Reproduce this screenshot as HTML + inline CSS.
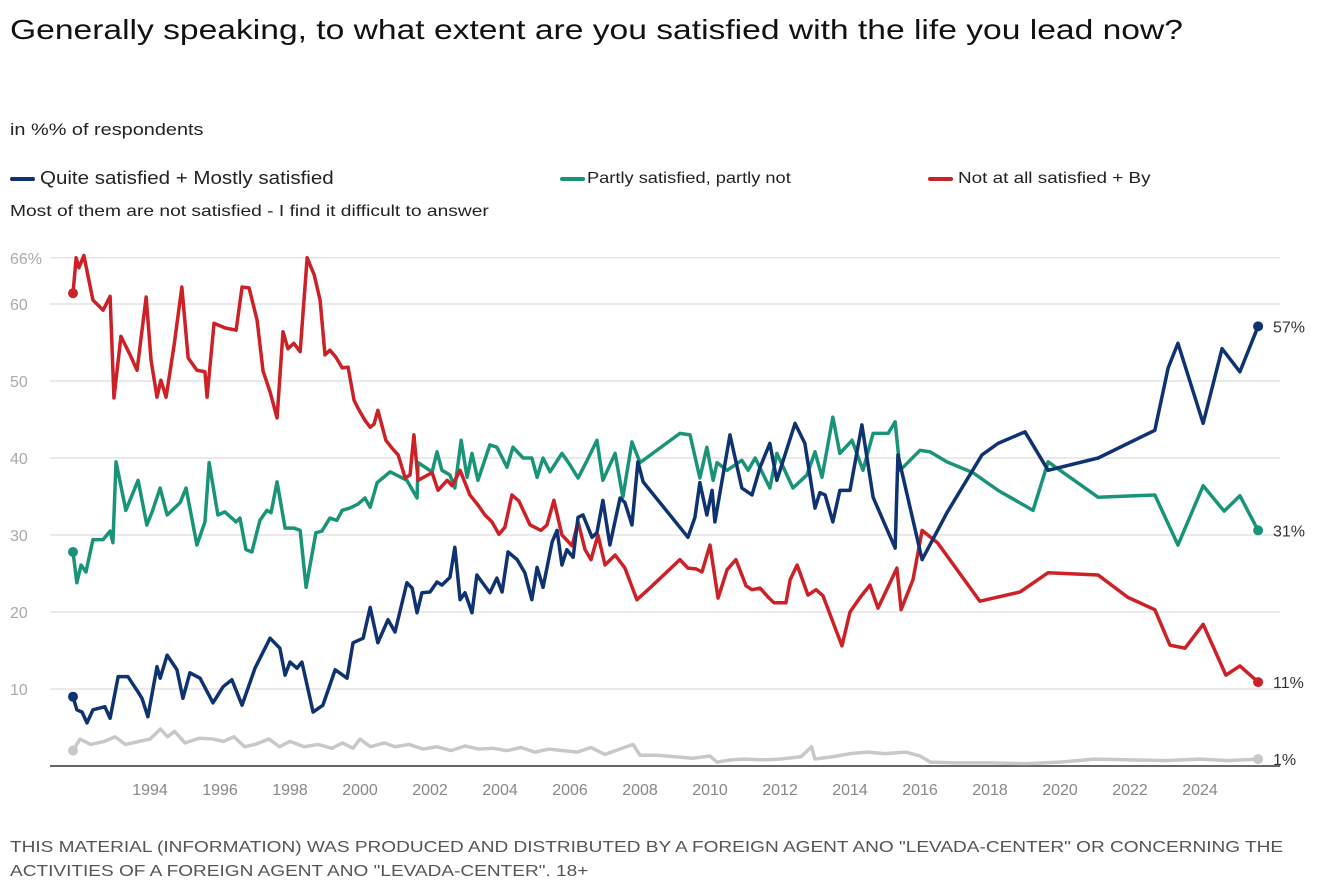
<!DOCTYPE html>
<html><head><meta charset="utf-8">
<style>
body{margin:0;width:1320px;height:885px;background:#fff;font-family:"Liberation Sans",sans-serif;overflow:hidden;position:relative}
.t{position:absolute;white-space:nowrap;transform-origin:0 0}
</style></head>
<body>
<div class="t" style="left:10px;top:14px;font-size:28px;color:#111;transform:scaleX(1.2)">Generally speaking, to what extent are you satisfied with the life you lead now?</div>
<div class="t" style="left:10px;top:120px;font-size:17px;color:#222;transform:scaleX(1.17)">in %% of respondents</div>
<div>
<div class="t" style="left:10px;top:168px;font-size:18px;color:#222"><span style="display:inline-block;width:25px;height:4px;background:#0e3370;border-radius:2px;vertical-align:middle;margin-right:5px"></span><span style="display:inline-block;transform:scaleX(1.14);transform-origin:0 0">Quite satisfied + Mostly satisfied</span></div>
<div class="t" style="left:560px;top:170px;font-size:16px;color:#222"><span style="display:inline-block;width:25px;height:4px;background:#1a9478;border-radius:2px;vertical-align:middle;margin-right:2px"></span><span style="display:inline-block;transform:scaleX(1.14);transform-origin:0 0">Partly satisfied, partly not</span></div>
<div class="t" style="left:928px;top:170px;font-size:16px;color:#222"><span style="display:inline-block;width:25px;height:4px;background:#cc2127;border-radius:2px;vertical-align:middle;margin-right:5px"></span><span style="display:inline-block;transform:scaleX(1.18);transform-origin:0 0">Not at all satisfied + By</span></div>
<div class="t" style="left:10px;top:203px;font-size:16px;color:#222;transform:scaleX(1.2)">Most of them are not satisfied - I find it difficult to answer</div>
</div>
<svg id="chart" width="1320" height="885" style="position:absolute;left:0;top:0"></svg>
<div class="t" style="left:10px;top:836px;font-size:16px;color:#555;line-height:24px;transform:scaleX(1.19)">THIS MATERIAL (INFORMATION) WAS PRODUCED AND DISTRIBUTED BY A FOREIGN AGENT ANO "LEVADA-CENTER" OR CONCERNING THE<br>ACTIVITIES OF A FOREIGN AGENT ANO "LEVADA-CENTER". 18+</div>
<script>
const yTicks=[10,20,30,40,50,60,66];
const xTicks=[1994,1996,1998,2000,2002,2004,2006,2008,2010,2012,2014,2016,2018,2020,2022,2024];
const blueYears=[1991.80,1991.91,1992.06,1992.20,1992.37,1992.71,1992.86,1993.09,1993.37,1993.66,1993.77,1993.94,1994.20,1994.29,1994.49,1994.77,1994.94,1995.14,1995.43,1995.80,1996.09,1996.34,1996.63,1997.00,1997.43,1997.71,1997.86,1998.00,1998.20,1998.34,1998.66,1998.94,1999.29,1999.63,1999.80,2000.09,2000.29,2000.51,2000.80,2001.00,2001.34,2001.49,2001.63,2001.77,2002.00,2002.20,2002.34,2002.57,2002.71,2002.86,2003.00,2003.20,2003.34,2003.71,2003.91,2004.06,2004.23,2004.49,2004.71,2004.91,2005.06,2005.23,2005.49,2005.63,2005.77,2005.91,2006.09,2006.23,2006.37,2006.63,2006.77,2006.94,2007.14,2007.43,2007.57,2007.77,2007.94,2008.09,2009.14,2009.37,2009.57,2009.71,2009.91,2010.06,2010.14,2010.57,2010.91,2011.20,2011.43,2011.71,2011.91,2012.43,2012.71,2013.00,2013.14,2013.29,2013.51,2013.71,2014.00,2014.34,2014.66,2015.29,2015.37,2016.06,2016.77,2017.77,2018.23,2019.00,2019.66,2021.09,2022.71,2023.09,2023.37,2024.09,2024.63,2025.14,2025.66];
const blueValues=[9.0,7.3,7.0,5.6,7.3,7.7,6.2,11.6,11.6,9.6,8.8,6.4,12.9,11.4,14.4,12.5,8.8,12.1,11.4,8.2,10.3,11.2,7.9,12.7,16.6,15.3,11.8,13.5,12.7,13.5,7.0,7.9,12.5,11.4,16.0,16.6,20.6,16.0,19.0,17.4,23.8,23.1,19.9,22.5,22.6,23.9,23.5,24.5,28.4,21.6,22.5,19.9,24.8,22.5,24.4,22.6,27.8,26.8,25.1,21.6,25.8,23.2,29.1,30.6,26.1,28.1,27.1,32.3,32.6,29.7,30.3,34.5,28.7,34.8,34.2,31.3,39.5,36.9,31.0,29.7,32.3,36.8,32.6,35.8,31.7,43.0,36.1,35.2,38.8,41.9,37.1,44.5,41.9,33.5,35.5,35.2,31.7,35.8,35.8,44.3,34.9,28.3,40.4,26.8,32.9,40.4,41.9,43.4,38.4,40.0,43.6,51.7,54.9,44.5,54.2,51.2,57.1];
const greenYears=[1991.80,1991.91,1992.03,1992.17,1992.37,1992.66,1992.86,1992.94,1993.03,1993.31,1993.66,1993.91,1994.06,1994.29,1994.49,1994.86,1995.03,1995.34,1995.57,1995.69,1995.94,1996.14,1996.46,1996.57,1996.74,1996.91,1997.14,1997.34,1997.46,1997.63,1997.86,1998.11,1998.29,1998.46,1998.74,1998.91,1999.14,1999.34,1999.49,1999.71,1999.94,2000.14,2000.29,2000.49,2000.86,2001.34,2001.63,2001.66,2002.06,2002.20,2002.34,2002.57,2002.71,2002.89,2003.06,2003.20,2003.37,2003.71,2003.91,2004.20,2004.37,2004.66,2004.91,2005.06,2005.23,2005.43,2005.77,2006.00,2006.23,2006.49,2006.77,2006.94,2007.29,2007.51,2007.77,2008.00,2009.14,2009.43,2009.71,2009.91,2010.09,2010.20,2010.49,2010.91,2011.09,2011.29,2011.71,2011.91,2012.37,2012.77,2013.00,2013.20,2013.51,2013.71,2014.06,2014.37,2014.66,2015.09,2015.29,2015.43,2016.00,2016.29,2016.77,2017.51,2018.23,2019.23,2019.66,2021.09,2022.71,2023.37,2024.09,2024.69,2025.14,2025.66];
const greenValues=[27.8,23.8,26.1,25.2,29.4,29.4,30.5,29.0,39.5,33.2,37.1,31.3,33.0,36.1,32.6,34.2,36.1,28.7,31.7,39.4,32.6,33.0,31.7,32.2,28.1,27.8,31.9,33.2,32.9,36.9,30.9,30.9,30.6,23.2,30.3,30.5,32.2,31.9,33.2,33.5,34.0,34.8,33.6,36.8,38.2,37.1,34.8,39.4,38.2,40.8,38.4,37.8,36.1,42.3,37.5,40.6,37.1,41.7,41.4,38.8,41.4,40.0,40.0,37.5,40.0,38.2,40.6,39.1,37.4,39.7,42.3,37.1,40.6,34.9,42.1,39.4,43.2,43.0,37.4,41.4,37.1,39.4,38.4,39.7,38.4,40.0,36.1,40.6,36.1,37.8,40.8,37.5,45.3,40.6,42.3,38.4,43.2,43.2,44.7,38.4,41.0,40.8,39.5,38.1,35.8,33.2,39.5,34.9,35.2,28.7,36.4,33.1,35.1,30.6];
const redYears=[1991.80,1991.89,1991.97,1992.11,1992.37,1992.66,1992.86,1992.97,1993.17,1993.43,1993.63,1993.89,1994.03,1994.20,1994.31,1994.46,1994.69,1994.91,1995.09,1995.34,1995.57,1995.63,1995.83,1996.14,1996.46,1996.63,1996.83,1997.06,1997.23,1997.43,1997.63,1997.80,1997.94,1998.11,1998.29,1998.49,1998.69,1998.86,1999.00,1999.14,1999.31,1999.49,1999.66,1999.83,1999.94,2000.14,2000.29,2000.40,2000.51,2000.74,2000.91,2001.09,2001.29,2001.43,2001.54,2001.66,2002.06,2002.23,2002.49,2002.63,2002.86,2003.14,2003.37,2003.57,2003.77,2003.97,2004.14,2004.34,2004.54,2004.86,2005.17,2005.34,2005.54,2005.77,2006.06,2006.23,2006.43,2006.60,2006.80,2007.00,2007.29,2007.57,2007.91,2008.23,2009.14,2009.37,2009.60,2009.77,2010.00,2010.23,2010.49,2010.74,2011.03,2011.20,2011.43,2011.69,2011.83,2012.17,2012.29,2012.49,2012.80,2013.03,2013.23,2013.77,2014.00,2014.29,2014.57,2014.80,2015.34,2015.46,2015.80,2016.06,2016.50,2017.71,2018.86,2019.66,2021.09,2021.94,2022.71,2023.14,2023.57,2024.09,2024.74,2025.14,2025.66];
const redValues=[61.4,66.0,64.7,66.3,60.5,59.2,61.0,47.8,55.8,53.4,51.4,60.9,52.7,47.9,50.1,47.9,54.7,62.2,53.0,51.4,51.2,47.9,57.5,56.9,56.6,62.2,62.1,57.9,51.3,48.6,45.2,56.4,54.2,54.9,53.8,66.0,63.8,60.5,53.4,54.0,53.1,51.7,51.8,47.5,46.5,44.9,44.0,44.4,46.2,42.3,41.3,40.4,37.4,37.8,43.0,37.1,38.1,35.8,37.1,36.4,38.4,35.2,33.9,32.6,31.7,30.1,31.0,35.2,34.4,31.3,30.6,31.3,34.5,30.0,28.6,31.7,28.1,26.8,30.0,26.1,27.4,25.7,21.6,22.9,26.8,25.7,25.6,25.2,28.7,21.8,25.5,26.8,23.4,22.9,23.1,21.8,21.2,21.2,24.2,26.1,22.2,22.9,22.1,15.6,20.0,21.9,23.5,20.5,25.7,20.3,24.2,30.6,29.0,21.4,22.6,25.1,24.8,21.9,20.3,15.7,15.3,18.4,11.8,13.0,10.9];
const greyYears=[1991.8,1992.0,1992.3,1992.7,1993.0,1993.3,1993.7,1994.0,1994.3,1994.5,1994.7,1995.0,1995.4,1995.8,1996.1,1996.4,1996.7,1997.0,1997.4,1997.7,1998.0,1998.4,1998.8,1999.2,1999.5,1999.8,2000.0,2000.3,2000.7,2001.0,2001.4,2001.8,2002.2,2002.6,2003.0,2003.4,2003.8,2004.2,2004.6,2005.0,2005.4,2005.8,2006.2,2006.6,2007.0,2007.3,2007.8,2008.0,2008.5,2009.0,2009.5,2010.0,2010.2,2010.6,2011.0,2011.5,2012.0,2012.6,2012.9,2013.0,2013.5,2014.0,2014.5,2015.0,2015.6,2016.0,2016.3,2017.0,2018.0,2019.0,2020.0,2021.0,2022.0,2023.0,2024.0,2024.8,2025.66];
const greyValues=[2.0,3.5,2.8,3.2,3.8,2.8,3.2,3.5,4.8,3.8,4.5,3.0,3.6,3.5,3.2,3.8,2.5,2.8,3.5,2.5,3.2,2.5,2.8,2.3,3.0,2.3,3.5,2.5,3.0,2.5,2.8,2.2,2.5,2.0,2.6,2.2,2.3,2.0,2.4,1.8,2.2,2.0,1.8,2.4,1.5,2.0,2.8,1.4,1.4,1.2,1.0,1.3,0.5,0.8,0.9,0.8,0.9,1.2,2.5,0.9,1.2,1.6,1.8,1.6,1.8,1.3,0.5,0.4,0.4,0.3,0.5,0.9,0.8,0.7,0.9,0.7,0.9];
const endLabels=["57%","31%","11%","1%"];

const NS="http://www.w3.org/2000/svg";
const svg=document.getElementById('chart');
function X(yr){return 150+(yr-1994)*35;}
function Y(v){return 766-v*7.7;}
function mk(tag,attrs){const e=document.createElementNS(NS,tag);for(const k in attrs)e.setAttribute(k,attrs[k]);svg.appendChild(e);return e;}
yTicks.forEach((v,i)=>{
  const l=mk('line',{x1:50,x2:1280,y1:Y(v),y2:Y(v),stroke:'#e4e4e4','stroke-width':1.5});
  
  
  const t=mk('text',{x:10,y:Y(v)+6,'font-size':16,fill:'#aaa','font-family':'Liberation Sans'});
  t.textContent=v+(i===yTicks.length-1?'%':'');
  
  
});
const base=mk('line',{x1:50,x2:1280,y1:766,y2:766,stroke:'#333','stroke-width':1.5});


xTicks.forEach(yr=>{
  const t=mk('text',{x:X(yr),y:795,'font-size':16,fill:'#888','text-anchor':'middle','font-family':'Liberation Sans'});
  t.textContent=yr;
  
  
});
function series(years,vals,color,name,label,dot){
  const p=mk('polyline',{points:years.map((y,i)=>X(y)+','+Y(vals[i])).join(' '),fill:'none',stroke:color,'stroke-width':3.5,'stroke-linejoin':'round','stroke-linecap':'round'});
  
  
  [0,years.length-1].forEach(i=>{
    const c=mk('circle',{cx:X(years[i]),cy:Y(vals[i]),r:5,fill:dot});
    
    
  });
  const t=mk('text',{x:1273,y:Y(vals[vals.length-1])+6,'font-size':16,fill:'#333','font-family':'Liberation Sans'});
  t.textContent=label;
  
  
}
series(greyYears,greyValues,'#c8c8c8','difficult-line',endLabels[3],'#c8c8c8');
series(greenYears,greenValues,'#1a9478','partly-satisfied-line',endLabels[1],'#1a9478');
series(redYears,redValues,'#cc2127','not-satisfied-line',endLabels[2],'#cc2127');
series(blueYears,blueValues,'#0e3370','satisfied-line',endLabels[0],'#0e3370');
</script>
</body></html>
